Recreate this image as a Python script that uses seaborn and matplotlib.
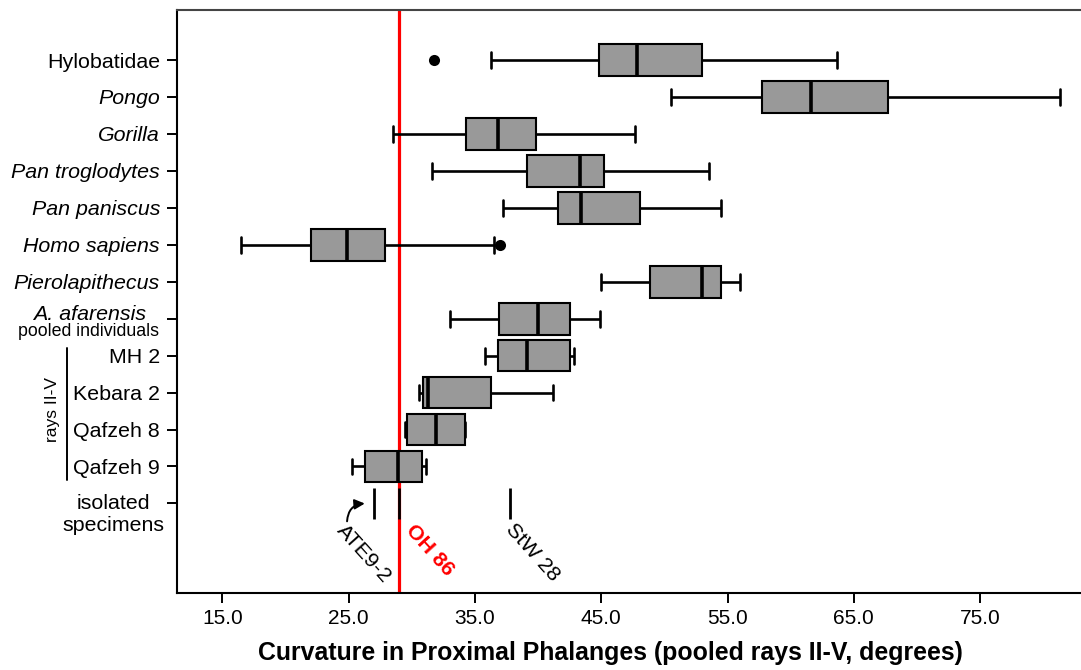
import numpy as np
import pandas as pd
import matplotlib
matplotlib.use("Agg")
import matplotlib.pyplot as plt
import matplotlib.transforms as mtransforms
import seaborn as sns

# ---------------- data ----------------
groups = ["Hylobatidae", "Pongo", "Gorilla", "Pan troglodytes", "Pan paniscus",
          "Homo sapiens", "Pierolapithecus", "A. afarensis", "MH 2", "Kebara 2",
          "Qafzeh 8", "Qafzeh 9"]
row_order = groups + ["isolated specimens"]
whisker_low = [36.3, 50.5, 28.5, 31.6, 37.2, 16.5, 45.0, 33.0, 35.8, 30.6, 29.5, 25.3]
q1 = [44.8, 57.7, 34.3, 39.15, 41.6, 22.0, 48.9, 36.9, 36.8, 30.9, 29.6, 26.3]
median = [47.8, 61.6, 36.8, 43.3, 43.4, 24.9, 53.0, 40.0, 39.1, 31.3, 31.9, 28.9]
q3 = [53.0, 67.7, 39.8, 45.2, 48.1, 27.9, 54.5, 42.5, 42.5, 36.3, 34.2, 30.8]
whisker_high = [63.7, 81.3, 47.7, 53.5, 54.5, 36.5, 56.0, 44.9, 42.85, 41.2, 34.2, 31.1]

outlier_groups = ["Hylobatidae", "Homo sapiens"]
outlier_values = [31.8, 37.0]

isolated_names = ["ATE9-2", "OH 86", "StW 28"]
isolated_values = [27.0, 29.0, 37.8]
oh86_value = 29.0

x_ticks = [15, 25, 35, 45, 55, 65, 75]
x_tick_labels = ["15.0", "25.0", "35.0", "45.0", "55.0", "65.0", "75.0"]
italic_groups = ["Pongo", "Gorilla", "Pan troglodytes", "Pan paniscus",
                 "Homo sapiens", "Pierolapithecus"]
x_label = "Curvature in Proximal Phalanges (pooled rays II-V, degrees)"

# ---------------- build long table ----------------
rows = []
for g, a, b, c, d, e in zip(groups, whisker_low, q1, median, q3, whisker_high):
    for v in (a, b, c, d, e):
        rows.append({"group": g, "value": v})
df = pd.DataFrame(rows)

sns.set_theme(style="white")
plt.rcParams["font.family"] = ["Liberation Sans", "DejaVu Sans"]
plt.rcParams["text.color"] = "black"
plt.rcParams["axes.labelcolor"] = "black"
plt.rcParams["xtick.color"] = "black"
plt.rcParams["ytick.color"] = "black"

W, H = 1081, 670
fig = plt.figure(figsize=(W / 100, H / 100), dpi=100)
ax_left, ax_right, ax_top, ax_bottom = 177, 1081, 10, 593.3
ax = fig.add_axes([ax_left / W, 1 - ax_bottom / H,
                   (ax_right - ax_left) / W, (ax_bottom - ax_top) / H])

# red reference line for OH 86
ax.axvline(oh86_value, color="#ff0000", linewidth=2.3, zorder=0.5)

sns.boxplot(data=df, x="value", y="group", order=row_order, orient="h",
            whis=np.inf, width=0.86, color="#999999", saturation=1,
            linecolor="black", linewidth=1.5,
            medianprops=dict(linewidth=2.6, color="black"),
            whiskerprops=dict(linewidth=1.9, color="black"),
            capprops=dict(linewidth=1.9, color="black"),
            ax=ax, zorder=2)

sns.stripplot(x=outlier_values, y=outlier_groups, order=row_order, orient="h",
              jitter=False, color="black", size=8, linewidth=0, ax=ax, zorder=3)

iso_row = row_order.index("isolated specimens")
ax.vlines(isolated_values, iso_row - 0.42, iso_row + 0.42, color="black",
          linewidth=2.0, zorder=3)

# axis limits & ticks
px_per_unit = 12.63
x_at_15 = 222.3
ax.set_xlim(15 + (ax_left - x_at_15) / px_per_unit, 15 + (ax_right - x_at_15) / px_per_unit)
row_px0, row_step = 60.0, 36.95
ax.set_ylim((ax_bottom - row_px0) / row_step, (ax_top - row_px0) / row_step)

ax.set_xticks(x_ticks)
ax.set_xticklabels(x_tick_labels, fontsize=15)
ax.set_yticks(range(len(row_order)))
ylabels = []
for g in row_order:
    if g in ("A. afarensis", "isolated specimens"):
        ylabels.append("")
    else:
        ylabels.append(g)
ax.set_yticklabels(ylabels, fontsize=15.4)
for lab, g in zip(ax.get_yticklabels(), row_order):
    if g in italic_groups:
        lab.set_fontstyle("italic")

ax.tick_params(axis="both", which="both", direction="out", length=7.2, width=1.4,
               color="black", labelcolor="black", left=True, bottom=True)
ax.tick_params(axis="x", pad=4)
ax.tick_params(axis="y", pad=5)

ax.set_ylabel("")
ax.set_xlabel(x_label, fontsize=17.9, fontweight="bold", color="black")
ax.xaxis.set_label_coords(0.4795, -0.081)

for s in ("left", "bottom"):
    ax.spines[s].set_color("black")
    ax.spines[s].set_linewidth(1.5)
ax.spines["top"].set_color("#444444")
ax.spines["top"].set_linewidth(1.5)
ax.spines["right"].set_visible(False)

# custom row labels
blend = mtransforms.blended_transform_factory(fig.transFigure, ax.transData)
afa_row = row_order.index("A. afarensis")
fig.text(90 / W, afa_row + 0.03, "A. afarensis", transform=blend, ha="center",
         va="baseline", fontsize=15.4, fontstyle="italic")
fig.text(89 / W, afa_row + 0.46, "pooled individuals", transform=blend,
         ha="center", va="baseline", fontsize=12.8)
fig.text(113.6 / W, iso_row + 0.16, "isolated", transform=blend, ha="center",
         va="baseline", fontsize=15.4)
fig.text(113.6 / W, iso_row + 0.74, "specimens", transform=blend, ha="center",
         va="baseline", fontsize=15.4)

# "rays II-V" bracket
fig.text(53 / W, 1 - 410 / H, "rays II-V", rotation=90, ha="center", va="center",
         fontsize=12.5)
fig.add_artist(plt.Line2D([67 / W, 67 / W], [1 - 348 / H, 1 - 480 / H],
                          color="black", linewidth=1.4, transform=fig.transFigure))

# isolated specimen labels
offsets = {"ATE9-2": (-19.0, -1.4), "OH 86": (12.0, -1.8), "StW 28": (4.5, -0.7)}
for name, val in zip(isolated_names, isolated_values):
    is_oh = name == "OH 86"
    ax.annotate(name, xy=(val, iso_row + 0.42), xytext=offsets[name],
                textcoords="offset points", ha="left", va="top",
                rotation=-48, rotation_mode="anchor", fontsize=15.4,
                color="#ff0000" if is_oh else "black",
                fontweight="bold" if is_oh else "normal", zorder=4)

# curved arrow pointing at ATE9-2
ate_val = isolated_values[isolated_names.index("ATE9-2")]
ax.annotate("", xy=(ate_val - 0.5, iso_row + 0.0),
            xytext=(ate_val - 2.13, iso_row + 0.56),
            arrowprops=dict(arrowstyle="-|>", color="black", linewidth=1.4,
                            mutation_scale=15,
                            connectionstyle="arc3,rad=-0.5"), zorder=4)

fig.savefig("out.png", dpi=100)
